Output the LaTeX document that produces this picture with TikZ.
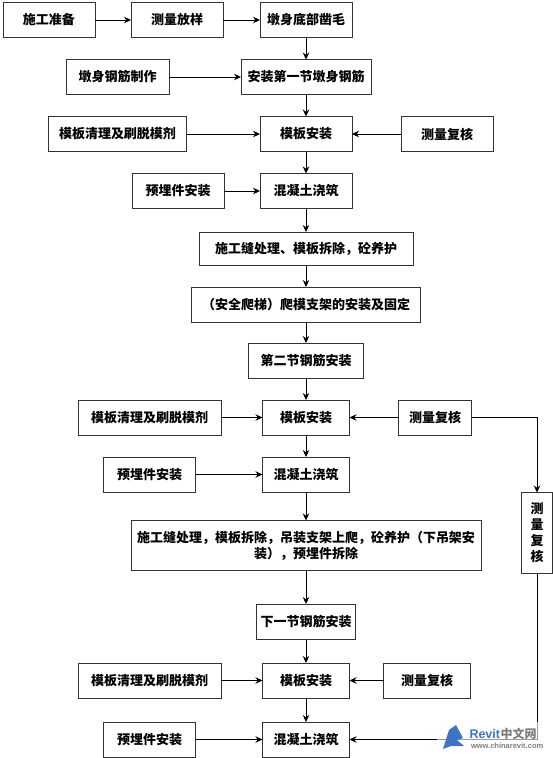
\documentclass[tikz,border=0pt]{standalone}
\usepackage{fontspec}
\usepackage{xcolor}
\setmainfont{Noto Sans CJK SC}
\newfontfamily\latinfont{Liberation Sans}
\usetikzlibrary{arrows.meta, positioning}

\definecolor{markblue}{HTML}{3F74C4}
\definecolor{markgray}{HTML}{7D7D7D}

\begin{document}
\begin{tikzpicture}[x=1pt, y=1pt,
            block/.style={draw, rectangle, minimum height=35pt, inner sep=0pt, outer sep=0pt, align=center, line width=0.9pt, draw=black!80, font=\fontsize{13}{16}\selectfont\bfseries},
            logotext/.style={inner sep=0pt, outer sep=0pt, anchor=west},
            arrow/.style={line width=0.9pt, -{Stealth[length=7pt, width=6.5pt]}}]
            \useasboundingbox (0,0) rectangle (553,-758);

            % Nodes, top part
            \node (prep) [block, minimum width=92pt] at (49,-20) {施工准备};
            \node (survey) [block, minimum width=92pt, right=36pt of prep] {测量放样};
            \node (base) [block, minimum width=92pt, right=37pt of survey] {墩身底部凿毛};
            \node (rebarone) [block, minimum width=130pt, below=22pt of base] {安装第一节墩身钢筋};
            \node (rebarmake) [block, minimum width=103pt, left=72pt of rebarone] {墩身钢筋制作};
            \node (formone) [block, minimum width=92pt, below=22pt of rebarone] {模板安装};
            \node (cleanone) [block, minimum width=138pt, left=73.5pt of formone] {模板清理及刷脱模剂};
            \node (checkone) [block, minimum width=92pt, right=49pt of formone] {测量复核};
            \node (pourone) [block, minimum width=92pt, below=22pt of formone] {混凝土浇筑};
            \node (partone) [block, minimum width=92pt, left=36pt of pourone] {预埋件安装};
            \node (jointone) [block, minimum width=214pt, minimum height=33pt, below=23.5pt of pourone] {施工缝处理、模板拆除，砼养护};
            \node (ladder) [block, minimum width=229pt, below=22pt of jointone] {（安全爬梯）爬模支架的安装及固定};

            % Nodes, second section
            \node (rebartwo) [block, minimum width=115pt, minimum height=35.5pt, below=21pt of ladder] {第二节钢筋安装};
            \node (formtwo) [block, minimum width=87pt, below=21.5pt of rebartwo] {模板安装};
            \node (cleantwo) [block, minimum width=143pt, left=41.5pt of formtwo] {模板清理及刷脱模剂};
            \node (checktwo) [block, minimum width=73pt, right=49pt of formtwo] {测量复核};
            \node (pourtwo) [block, minimum width=87pt, below=22pt of formtwo] {混凝土浇筑};
            \node (parttwo) [block, minimum width=92pt, left=67pt of pourtwo] {预埋件安装};
            \node (jointtwo) [block, minimum width=350pt, minimum height=50pt, below=28.5pt of pourtwo] {施工缝处理，模板拆除，吊装支架上爬，砼养护（下吊架安\\装），预埋件拆除};
            \node (checkside) [block, minimum width=31pt, minimum height=81pt] at (537,-533) {测\\量\\复\\核};

            % Nodes, last section
            \node (rebarnext) [block, minimum width=98.5pt, minimum height=35.5pt, below=33.5pt of jointtwo] {下一节钢筋安装};
            \node (formnext) [block, minimum width=87pt, below=23.5pt of rebarnext] {模板安装};
            \node (cleannext) [block, minimum width=143pt, left=41.5pt of formnext] {模板清理及刷脱模剂};
            \node (checknext) [block, minimum width=87pt, right=34pt of formnext] {测量复核};
            \node (pournext) [block, minimum width=87pt, below=24pt of formnext] {混凝土浇筑};
            \node (partnext) [block, minimum width=92pt, left=67pt of pournext] {预埋件安装};

            % Arrows, top part
            \draw [arrow] (prep) -- (survey);
            \draw [arrow] (survey) -- (base);
            \draw [arrow] (base) -- (rebarone);
            \draw [arrow] (rebarmake) -- (rebarone);
            \draw [arrow] (rebarone) -- (formone);
            \draw [arrow] (cleanone) -- (formone);
            \draw [arrow] (checkone) -- (formone);
            \draw [arrow] (formone) -- (pourone);
            \draw [arrow] (partone) -- (pourone);
            \draw [arrow] (pourone) -- (jointone);
            \draw [arrow] (jointone) -- (ladder);
            \draw [arrow] (ladder) -- (rebartwo);

            % Arrows, second section
            \draw [arrow] (rebartwo) -- (formtwo);
            \draw [arrow] (cleantwo) -- (formtwo);
            \draw [arrow] (checktwo) -- (formtwo);
            \draw [arrow] (formtwo) -- (pourtwo);
            \draw [arrow] (parttwo) -- (pourtwo);
            \draw [arrow] (pourtwo) -- (jointtwo);
            \draw [arrow] (checktwo) -| (checkside);

            % Arrows, last section
            \draw [arrow] (jointtwo) -- (rebarnext);
            \draw [arrow] (rebarnext) -- (formnext);
            \draw [arrow] (cleannext) -- (formnext);
            \draw [arrow] (checknext) -- (formnext);
            \draw [arrow] (formnext) -- (pournext);
            \draw [arrow] (partnext) -- (pournext);
            \draw [arrow] (checkside) |- (pournext);

            % Watermark
            \fill [white, opacity=0.6] (437,-722) rectangle (545,-752);
            \fill [markblue] (443,-749) -- (449,-730) -- (456,-725) -- (463,-738) -- (457,-740) -- (464,-746) -- (451,-746) -- cycle;
            \node (markname) [logotext, text=markblue, font=\latinfont\fontsize{12.5}{14}\selectfont\bfseries] at (469.5,-734) {Revit};
            \node (markcn) [logotext, text=markgray, font=\fontsize{12}{14}\selectfont\bfseries, right=0.5pt of markname] {中文网};
            \node (markurl) [logotext, text=markgray, font=\latinfont\fontsize{7.5}{9}\selectfont\bfseries] at (471,-746) {www.chinarevit.com};
        \end{tikzpicture}
\end{document}
